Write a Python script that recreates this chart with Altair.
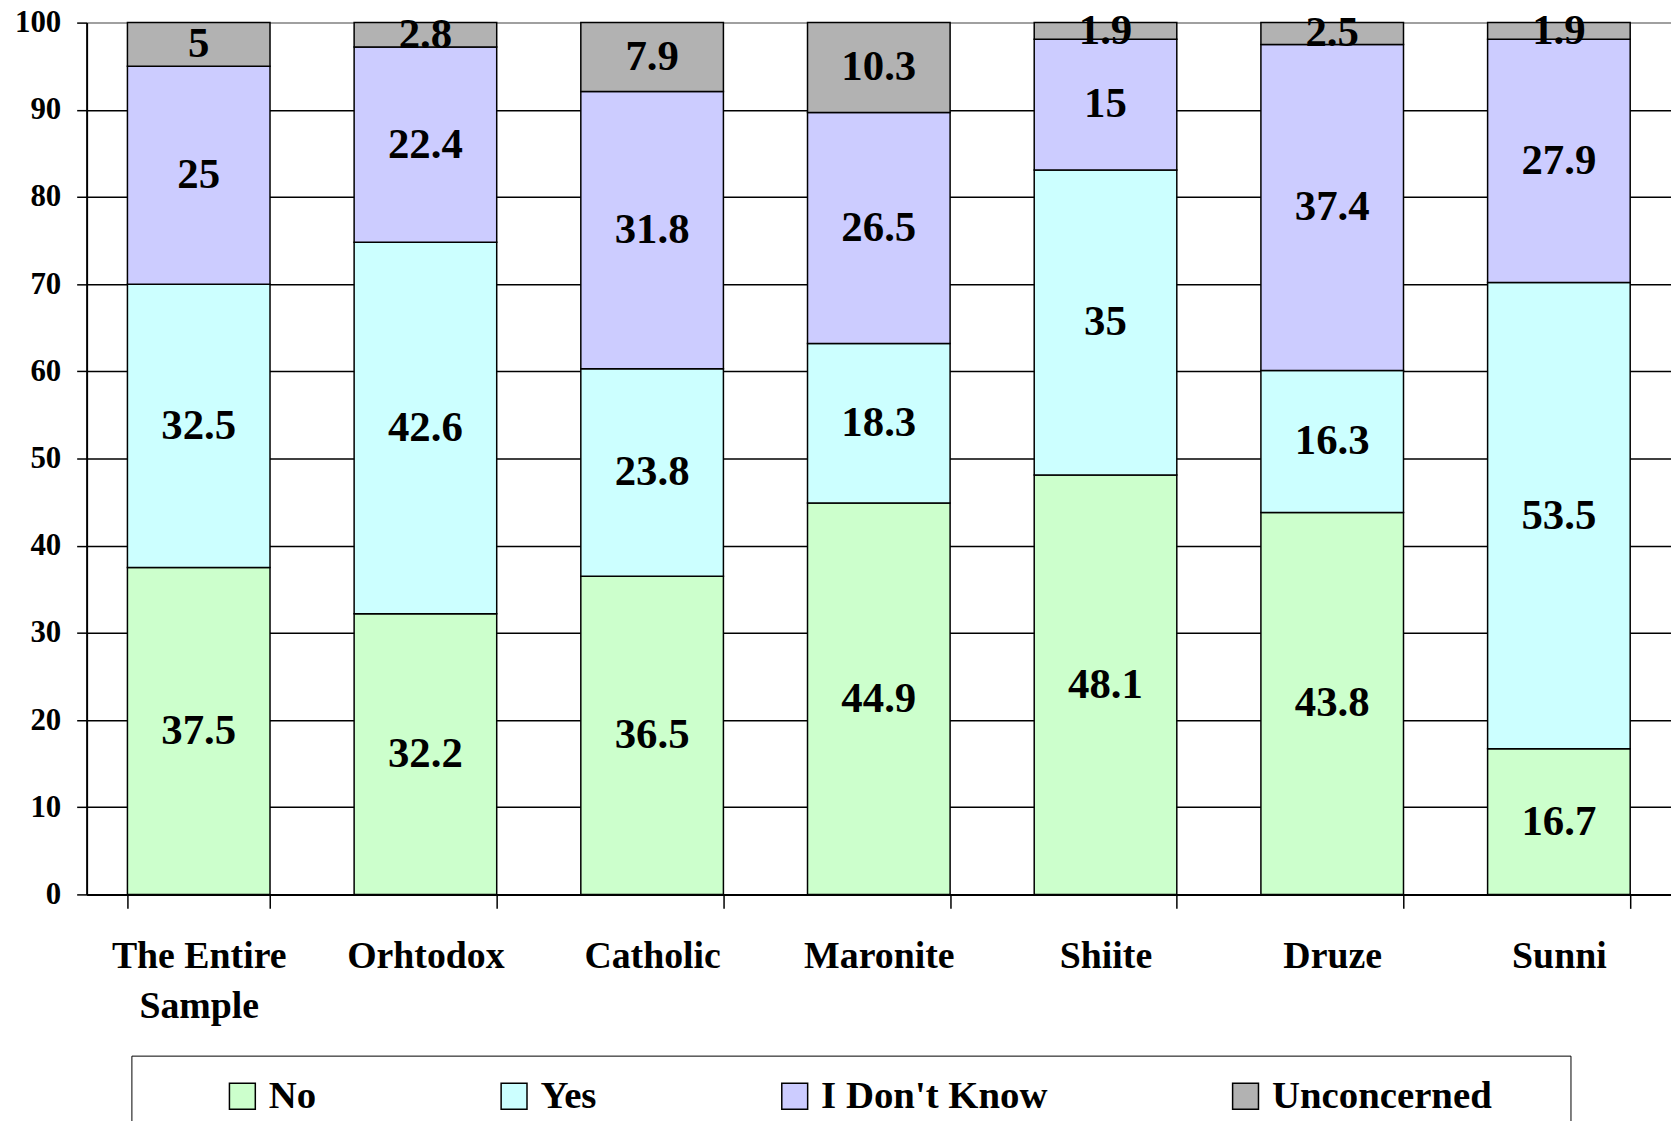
import altair as alt
import pandas as pd

groups = ["The Entire Sample", "Orhtodox", "Catholic", "Maronite", "Shiite", "Druze", "Sunni"]
responses = ["No", "Yes", "I Don't Know", "Unconcerned"]
no_vals = [37.5, 32.2, 36.5, 44.9, 48.1, 43.8, 16.7]
yes_vals = [32.5, 42.6, 23.8, 18.3, 35, 16.3, 53.5]
idk_vals = [25, 22.4, 31.8, 26.5, 15, 37.4, 27.9]
unc_vals = [5, 2.8, 7.9, 10.3, 1.9, 2.5, 1.9]
colors = ["#CCFFCC", "#CCFFFF", "#CCCCFF", "#B2B2B2"]
y_ticks = [0, 10, 20, 30, 40, 50, 60, 70, 80, 90, 100]

rows = []
for r_i, (resp, vals) in enumerate(zip(responses, [no_vals, yes_vals, idk_vals, unc_vals])):
    for g, v in zip(groups, vals):
        rows.append({"group": g, "response": resp, "value": v, "ord": r_i})
df = pd.DataFrame(rows)

FONT = "Liberation Serif"
PAD_CHARS = "\u2800\u2800"

x_enc = alt.X(
    "group:N",
    sort=groups,
    title=None,
    scale=alt.Scale(paddingInner=0.371, paddingOuter=0.18),
    axis=alt.Axis(
        tickBand="extent",
        labelAngle=0,
        labelFont=FONT,
        labelFontWeight="bold",
        labelFontSize=38,
        labelColor="black",
        labelPadding=29,
        labelLimit=400,
        labelOverlap=False,
        labelLineHeight=51,
        labelExpr="datum.label == 'The Entire Sample' ? ['The Entire', 'Sample'] : datum.label",
        tickSize=14,
        tickColor="black",
        tickWidth=1.5,
        domainColor="black",
        domainWidth=2,
        grid=False,
    ),
)

y_axis = alt.Axis(
    values=y_ticks,
    title=None,
    labelFont=FONT,
    labelFontWeight="bold",
    labelFontSize=31,
    labelColor="black",
    labelPadding=16,
    tickSize=10,
    tickColor="black",
    tickWidth=1.5,
    domainColor="black",
    domainWidth=2,
    grid=True,
    gridColor={"condition": {"test": "datum.value == 100", "value": "#808080"}, "value": "black"},
    gridWidth=1.5,
)

bars = alt.Chart(df).mark_bar(stroke="black", strokeWidth=1.5).encode(
    x=x_enc,
    y=alt.Y("value:Q", stack="zero", scale=alt.Scale(domain=[0, 100], nice=False), axis=y_axis),
    color=alt.Color(
        "response:N",
        scale=alt.Scale(domain=responses, range=colors),
        legend=alt.Legend(
            orient="none",
            legendX=45,
            legendY=1038,
            direction="horizontal",
            columns=4,
            title=None,
            symbolType="square",
            symbolSize=676,
            symbolStrokeColor="black",
            symbolStrokeWidth=1.5,
            symbolOpacity=1,
            symbolOffset=71,
            columnPadding=108,
            labelFont=FONT,
            labelFontSize=39,
            labelFontWeight="bold",
            labelColor="black",
            labelOffset=7,
            labelLimit=600,
            padding=21,
            strokeColor="black",
            labelExpr="datum.label == 'Unconcerned' ? 'Unconcerned" + PAD_CHARS + "' : datum.label",
        ),
    ),
    order=alt.Order("ord:Q", sort="ascending"),
)

labels = (
    alt.Chart(df)
    .transform_stack(
        stack="value",
        groupby=["group"],
        sort=[alt.SortField("ord", order="ascending")],
        as_=["y0", "y1"],
    )
    .transform_calculate(mid="(datum.y0 + datum.y1) / 2")
    .mark_text(font=FONT, fontWeight="bold", fontSize=43, color="black", baseline="middle")
    .encode(
        x=alt.X("group:N", sort=groups),
        y=alt.Y("mid:Q"),
        text=alt.Text("value:Q", format=".1~f"),
    )
)

chart = (
    alt.layer(bars, labels)
    .properties(
        width=1592,
        height=876,
        autosize=alt.AutoSizeParams(type="none"),
        padding={"left": 79, "top": 12, "right": 0, "bottom": 225},
        background="white",
    )
    .configure_view(strokeWidth=0)
)

chart.save("out.html", embed_options={"renderer": "svg", "actions": False})
